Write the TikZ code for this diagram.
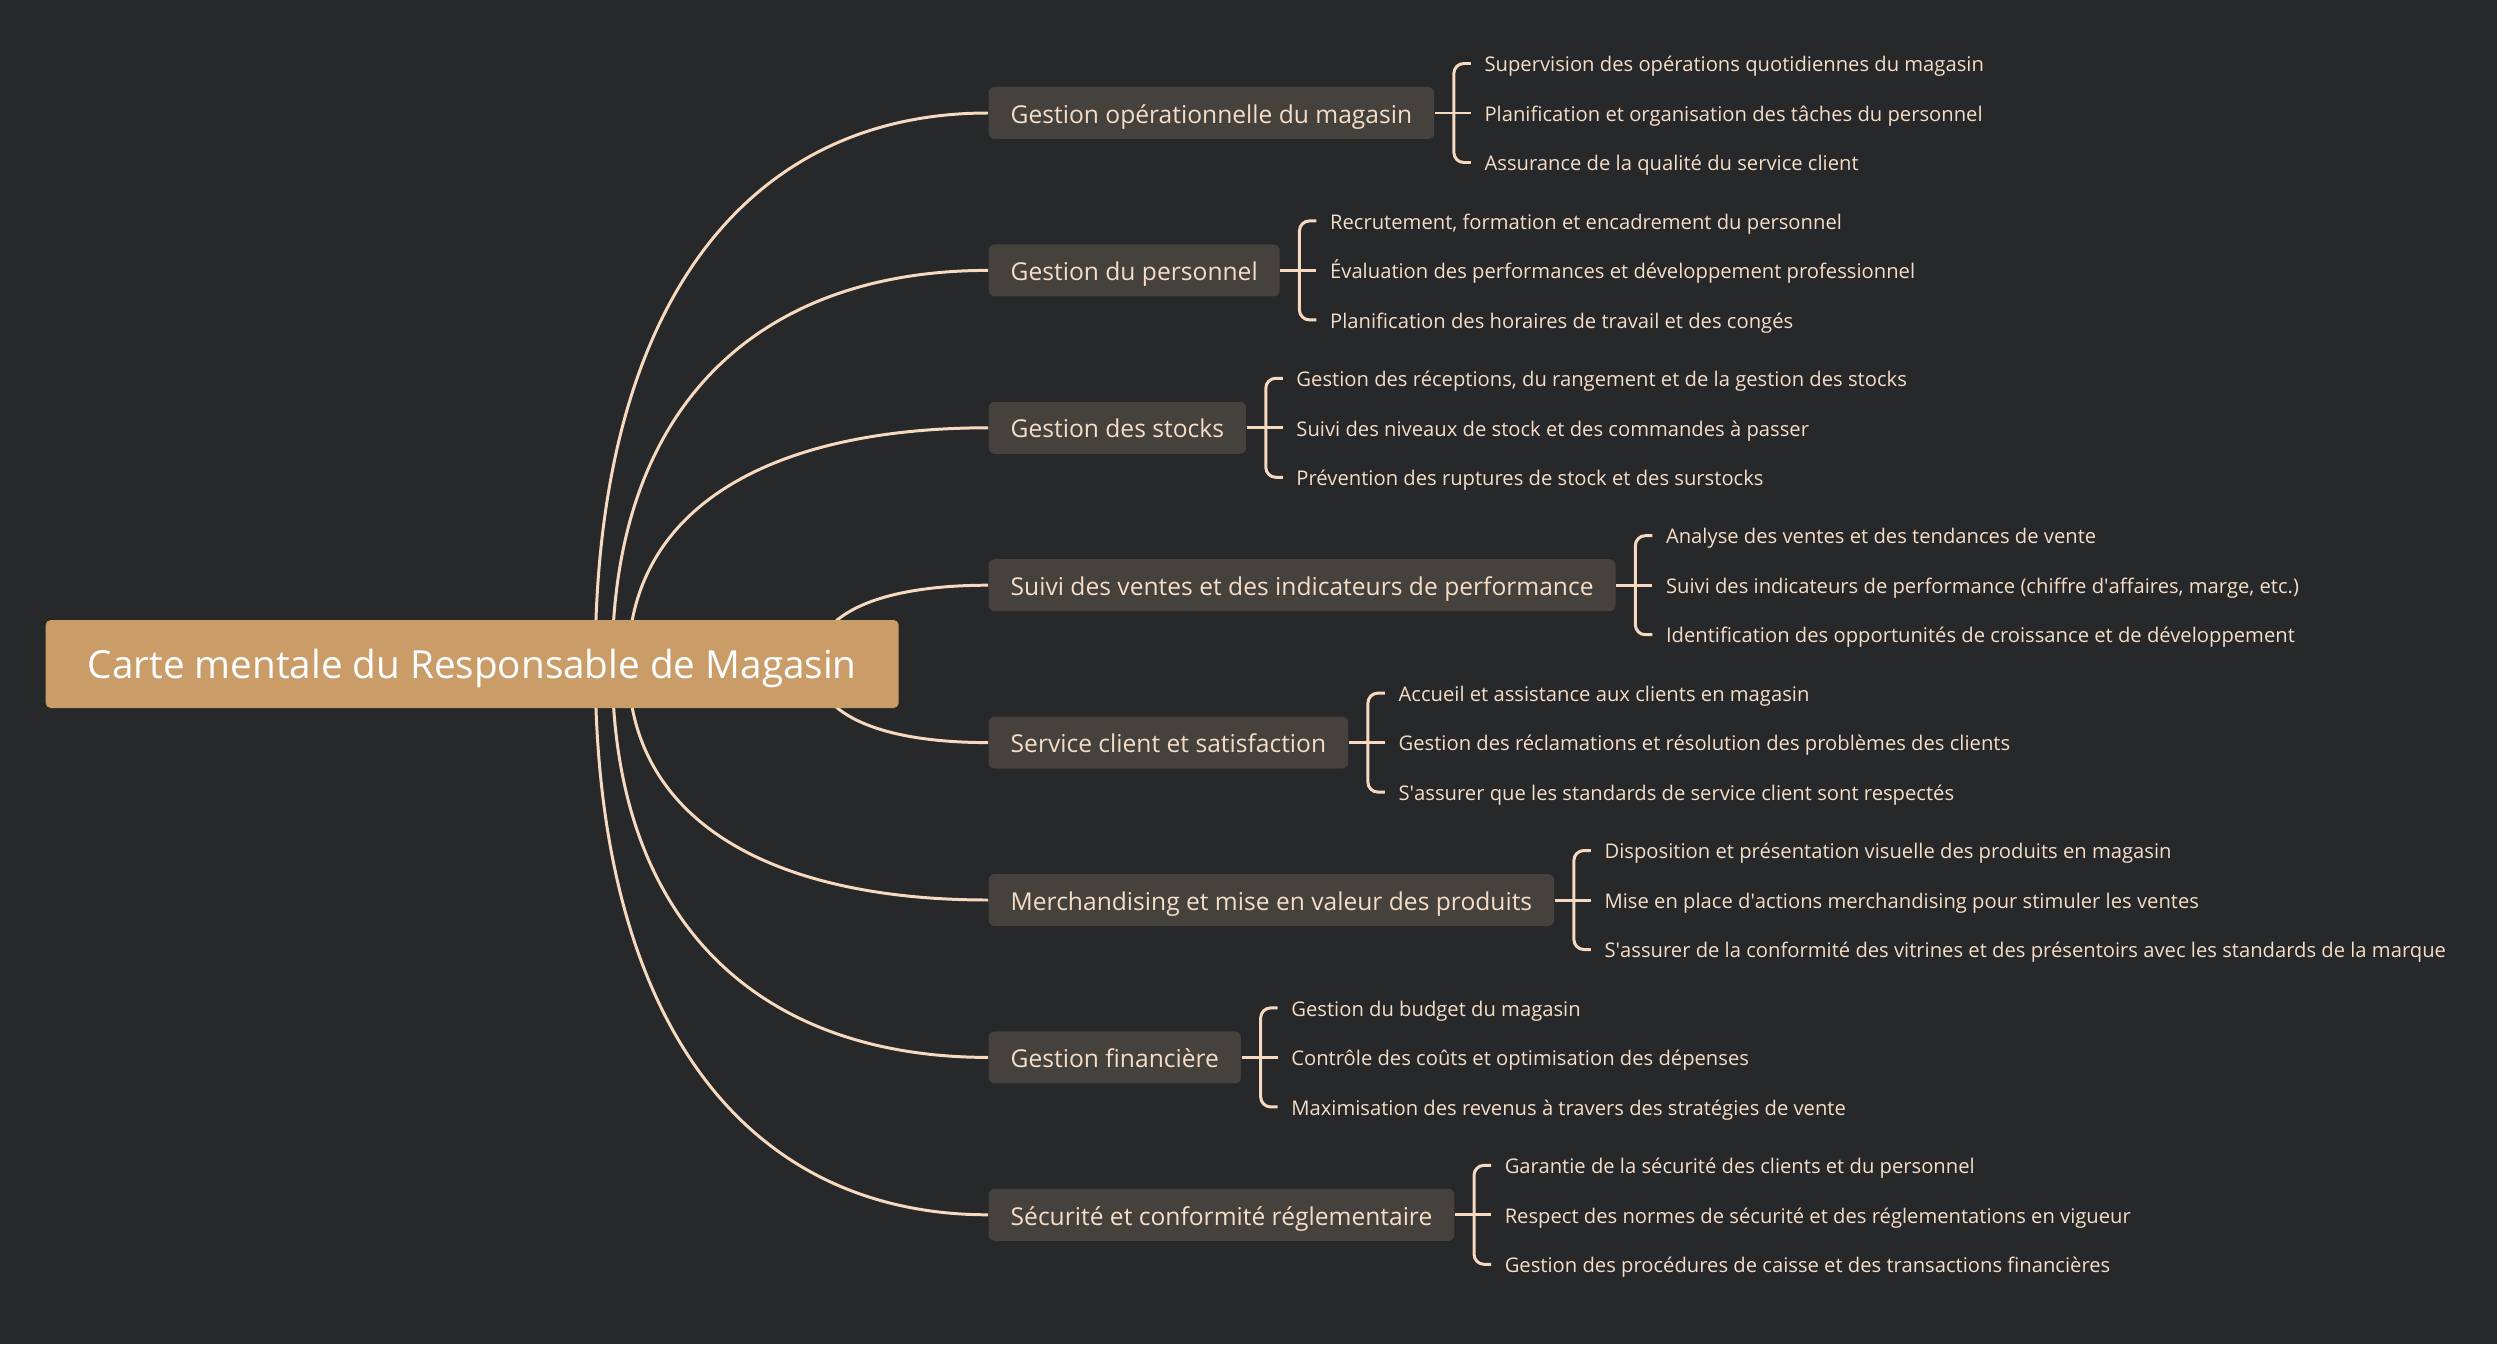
\documentclass[tikz,border=0pt]{standalone}
\usepackage{fontspec}
\setmainfont{Open Sans}
\usetikzlibrary{calc}
\usetikzlibrary{positioning}

\definecolor{bgdark}{HTML}{26282A}
\definecolor{roottan}{HTML}{C99C68}
\definecolor{branchgrey}{HTML}{45413C}
\definecolor{peach}{HTML}{F7D9BF}
\definecolor{peachtext}{HTML}{F5DDC7}

\pgfdeclarelayer{backdrop}
\pgfdeclarelayer{links}
\pgfsetlayers{backdrop,links,main}

\newcommand{\apos}{\textquotesingle}

\tikzset{
  root/.style={fill=roottan, text=white, rounded corners=0.05cm,
    minimum height=0.88cm, inner xsep=0.42cm, inner ysep=1pt, anchor=west,
    font=\fontsize{11}{13}\selectfont, text height=10pt, text depth=1.7pt},
  branch/.style={fill=branchgrey, text=peachtext, rounded corners=0.06cm,
    minimum height=0.52cm, inner xsep=0.22cm, inner ysep=1pt, anchor=west,
    font=\fontsize{7}{8.5}\selectfont, text height=6.8pt, text depth=1pt},
  leaf/.style={text=peachtext, inner xsep=0.13cm, inner ysep=0pt, anchor=west,
    font=\fontsize{5.75}{7}\selectfont, text height=5.5pt, text depth=0.8pt},
  link/.style={draw=peach, line width=0.85pt},
}

\begin{document}
\begin{tikzpicture}
        \begin{pgfonlayer}{backdrop}
        \fill[bgdark] (0,0) rectangle (24.97,13.44);
        \end{pgfonlayer}
        \useasboundingbox (0,0) rectangle (24.97,13.44);

        % centre
        \node[root] (root) at (0.45,6.80) {Carte mentale du Responsable de Magasin};

        % branches
        \node[branch] (b1) at (9.88,12.31) {Gestion opérationnelle du magasin};
        \node[branch] (b2) at (9.88,10.736) {Gestion du personnel};
        \node[branch] (b3) at (9.88,9.162) {Gestion des stocks};
        \node[branch] (b4) at (9.88,7.588) {Suivi des ventes et des indicateurs de performance};
        \node[branch] (b5) at (9.88,6.014) {Service client et satisfaction};
        \node[branch] (b6) at (9.88,4.44) {Merchandising et mise en valeur des produits};
        \node[branch] (b7) at (9.88,2.866) {Gestion financière};
        \node[branch] (b8) at (9.88,1.292) {Sécurité et conformité réglementaire};

        % leaves
        \node[leaf, right=0.36cm of b1, yshift=0.495cm] (b1-a) {Supervision des opérations quotidiennes du magasin};
        \node[leaf, right=0.36cm of b1] (b1-b) {Planification et organisation des tâches du personnel};
        \node[leaf, right=0.36cm of b1, yshift=-0.495cm] (b1-c) {Assurance de la qualité du service client};

        \node[leaf, right=0.36cm of b2, yshift=0.495cm] (b2-a) {Recrutement, formation et encadrement du personnel};
        \node[leaf, right=0.36cm of b2] (b2-b) {Évaluation des performances et développement professionnel};
        \node[leaf, right=0.36cm of b2, yshift=-0.495cm] (b2-c) {Planification des horaires de travail et des congés};

        \node[leaf, right=0.36cm of b3, yshift=0.495cm] (b3-a) {Gestion des réceptions, du rangement et de la gestion des stocks};
        \node[leaf, right=0.36cm of b3] (b3-b) {Suivi des niveaux de stock et des commandes à passer};
        \node[leaf, right=0.36cm of b3, yshift=-0.495cm] (b3-c) {Prévention des ruptures de stock et des surstocks};

        \node[leaf, right=0.36cm of b4, yshift=0.495cm] (b4-a) {Analyse des ventes et des tendances de vente};
        \node[leaf, right=0.36cm of b4] (b4-b) {Suivi des indicateurs de performance (chiffre d\apos affaires, marge, etc.)};
        \node[leaf, right=0.36cm of b4, yshift=-0.495cm] (b4-c) {Identification des opportunités de croissance et de développement};

        \node[leaf, right=0.36cm of b5, yshift=0.495cm] (b5-a) {Accueil et assistance aux clients en magasin};
        \node[leaf, right=0.36cm of b5] (b5-b) {Gestion des réclamations et résolution des problèmes des clients};
        \node[leaf, right=0.36cm of b5, yshift=-0.495cm] (b5-c) {S\apos assurer que les standards de service client sont respectés};

        \node[leaf, right=0.36cm of b6, yshift=0.495cm] (b6-a) {Disposition et présentation visuelle des produits en magasin};
        \node[leaf, right=0.36cm of b6] (b6-b) {Mise en place d\apos actions merchandising pour stimuler les ventes};
        \node[leaf, right=0.36cm of b6, yshift=-0.495cm] (b6-c) {S\apos assurer de la conformité des vitrines et des présentoirs avec les standards de la marque};

        \node[leaf, right=0.36cm of b7, yshift=0.495cm] (b7-a) {Gestion du budget du magasin};
        \node[leaf, right=0.36cm of b7] (b7-b) {Contrôle des coûts et optimisation des dépenses};
        \node[leaf, right=0.36cm of b7, yshift=-0.495cm] (b7-c) {Maximisation des revenus à travers des stratégies de vente};

        \node[leaf, right=0.36cm of b8, yshift=0.495cm] (b8-a) {Garantie de la sécurité des clients et du personnel};
        \node[leaf, right=0.36cm of b8] (b8-b) {Respect des normes de sécurité et des réglementations en vigueur};
        \node[leaf, right=0.36cm of b8, yshift=-0.495cm] (b8-c) {Gestion des procédures de caisse et des transactions financières};

        \begin{pgfonlayer}{links}
        % curves from the centre, starting under the root box
        \foreach \i/\dx in {1/1.23,2/1.40,3/1.56,4/3.43,5/3.43,6/1.56,7/1.40,8/1.23} {
            \coordinate (s\i) at ($(root.center)+(\dx,0)$);
            \draw[link] (s\i) .. controls ($(s\i)!0.667!(s\i |- b\i.west)$)
                and ($(s\i |- b\i.west)!0.4!(b\i.west)$) .. (b\i.west);
        }
        % brackets towards the leaves
        \foreach \i in {1,...,8} {
            \coordinate (k\i) at ($(b\i.east)+(0.19,0)$);
            \draw[link] (b\i.east) -- (b\i-b.west);
            \draw[link, rounded corners=0.1cm] (b\i-a.west) -| (k\i) |- (b\i-c.west);
        }
        \end{pgfonlayer}
    \end{tikzpicture}
\end{document}
